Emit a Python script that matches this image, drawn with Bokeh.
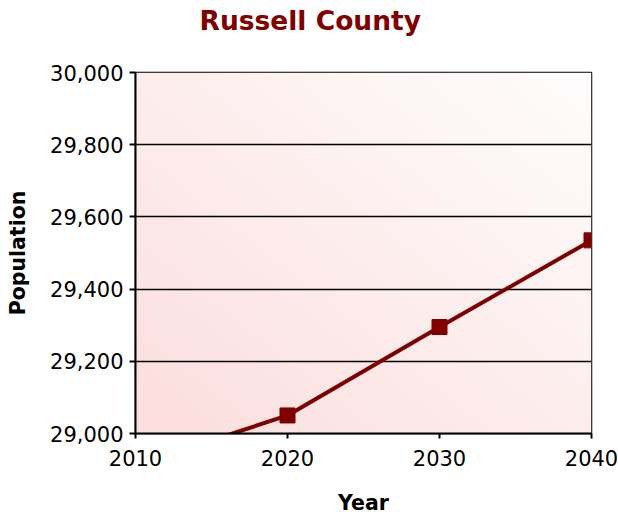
import numpy as np
from bokeh.plotting import figure
from bokeh.models import Range1d, FixedTicker, NumeralTickFormatter, Title
from bokeh.embed import file_html
from bokeh.resources import INLINE

# ---- data ----
years = [2010, 2020, 2030, 2040]
population = [28912, 29050, 29295, 29535]
x_ticks = [2010, 2020, 2030, 2040]
y_ticks = [29000, 29200, 29400, 29600, 29800, 30000]
title_text = "Russell County"
x_label = "Year"
y_label = "Population"

DARK_RED = "#800000"
FONT = "DejaVu Sans"

p = figure(width=618, height=517, output_backend="svg", toolbar_location=None,
           x_range=Range1d(2010, 2040), y_range=Range1d(29000, 30000),
           min_border_left=135, min_border_right=27, min_border_top=72,
           min_border_bottom=82, background_fill_color="white",
           border_fill_color="white")

# title; the trailing empty line lifts it to the top edge of the canvas
p.add_layout(Title(text=title_text + "\n", text_font=FONT,
                   text_font_size="26.5px", text_font_style="bold",
                   text_color=DARK_RED, align="left", vertical_align="top",
                   offset=64, standoff=8), "above")

# gradient background (pink bottom-left -> white top-right)
n = 64
gx, gy = np.meshgrid(np.linspace(0, 1, n), np.linspace(0, 1, n))
t = (gx + gy) / 2.0
start = np.array([252, 222, 222], dtype=float)
end = np.array([255, 253, 253], dtype=float)
img = np.empty((n, n), dtype=np.uint32)
view = img.view(dtype=np.uint8).reshape((n, n, 4))
for c in range(3):
    view[:, :, c] = (start[c] + (end[c] - start[c]) * t).astype(np.uint8)
view[:, :, 3] = 255
bg = p.image_rgba(image=[img], x=x_ticks[0], y=y_ticks[0],
                  dw=x_ticks[-1] - x_ticks[0], dh=y_ticks[-1] - y_ticks[0])
bg.level = "image"

p.line(years, population, line_color=DARK_RED, line_width=4)
p.scatter(years, population, marker="square", size=15, fill_color=DARK_RED,
          line_color=DARK_RED)

p.xgrid.visible = False
p.ygrid.ticker = FixedTicker(ticks=y_ticks)
p.ygrid.grid_line_color = "black"
p.ygrid.grid_line_width = 1.5

p.outline_line_color = "black"
p.outline_line_width = 1.5

xax = p.below[0]
yax = p.left[0]
for ax in (xax, yax):
    ax.axis_line_width = 2
    ax.axis_line_color = "black"
    ax.major_tick_in = 0
    ax.major_tick_line_width = 2
    ax.minor_tick_line_color = None
    ax.major_label_text_font = FONT
    ax.major_label_text_font_size = "21px"
    ax.major_label_text_color = "black"
    ax.axis_label_text_font = FONT
    ax.axis_label_text_font_size = "20.5px"
    ax.axis_label_text_font_style = "bold"
    ax.axis_label_text_color = "black"

xax.major_tick_out = 5
yax.major_tick_out = 6
xax.ticker = FixedTicker(ticks=x_ticks)
yax.ticker = FixedTicker(ticks=y_ticks)
yax.formatter = NumeralTickFormatter(format="0,0")
xax.axis_label = x_label
yax.axis_label = y_label
xax.major_label_standoff = 11
yax.major_label_standoff = 6
xax.axis_label_standoff = 22
yax.axis_label_standoff = 17

open("out.html", "w").write(file_html(p, INLINE))
